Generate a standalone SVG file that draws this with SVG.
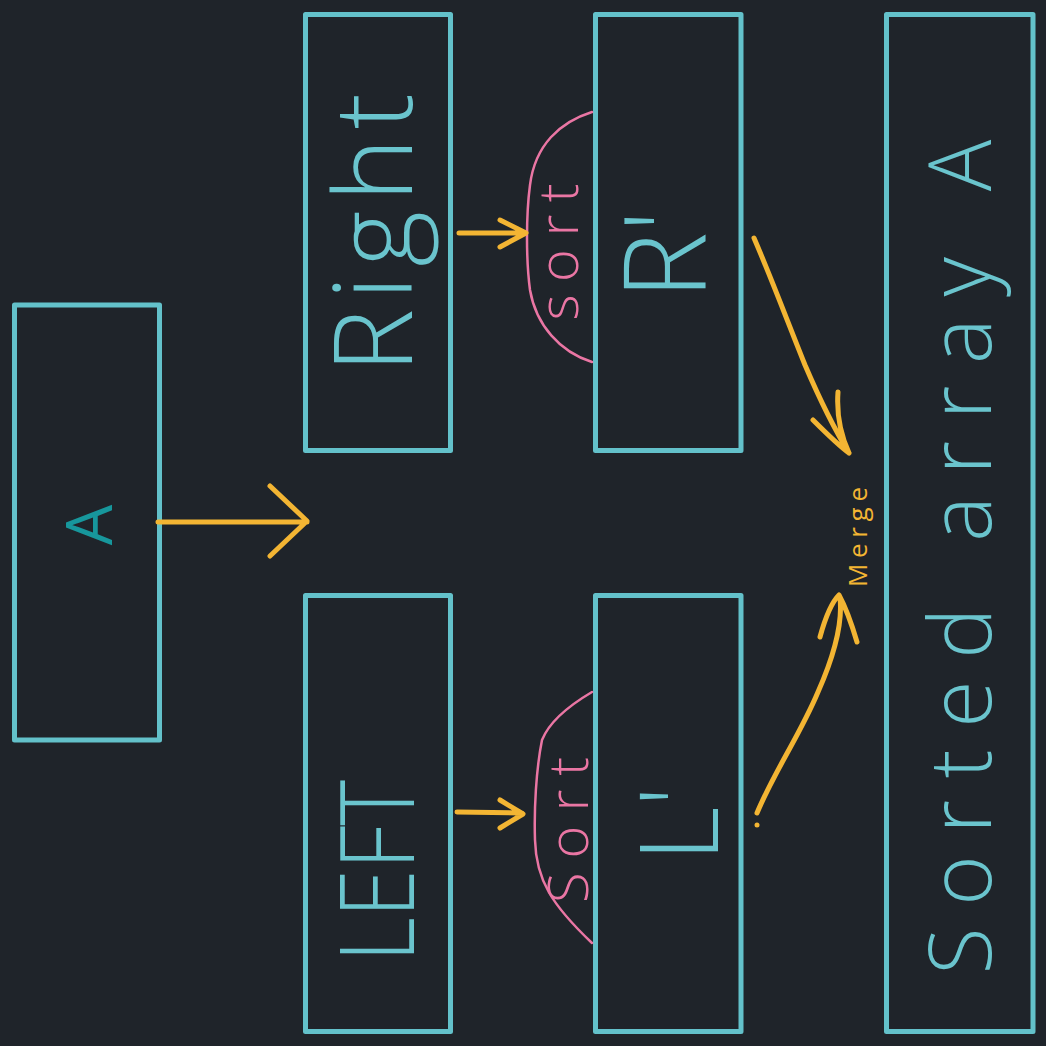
<svg xmlns="http://www.w3.org/2000/svg" width="1046" height="1046" viewBox="0 0 1046 1046">
<style>
.box{fill:none;stroke:#63c1ca;stroke-width:5;stroke-linejoin:round}
.lbl{font-family:"Open Sans","Liberation Sans","DejaVu Sans",sans-serif;font-weight:300;fill:#6ac4cd;text-anchor:middle}
.yel{fill:none;stroke:#f3b533;stroke-width:5;stroke-linecap:round;stroke-linejoin:round}
.pink{fill:none;stroke:#ea76a4;stroke-width:2.5;stroke-linecap:round}
.ptxt{font-family:"Open Sans","Liberation Sans","DejaVu Sans",sans-serif;font-weight:300;fill:#ea76a4;text-anchor:middle}
</style>
<rect width="1046" height="1046" fill="#1f242a"/>
<g id="node-A">
<rect class="box" x="14.5" y="305" width="145" height="435"/>
<text class="lbl" style="fill:#17979c;font-weight:400" font-size="64" transform="translate(112,525) rotate(-90)">A</text>
</g>
<g id="node-right">
<rect class="box" x="305.5" y="14.5" width="145" height="436"/>
<text class="lbl" font-size="108" textLength="280" lengthAdjust="spacing" transform="translate(412,233) rotate(-90)">Right</text>
</g>
<g id="node-left">
<rect class="box" x="305.5" y="595.5" width="145" height="436"/>
<text class="lbl" font-size="104" textLength="182" lengthAdjust="spacingAndGlyphs" transform="translate(414,871) rotate(-90)">LEFT</text>
</g>
<g id="node-rprime">
<rect class="box" x="595.5" y="14.5" width="145.5" height="436"/>
<text class="lbl" font-size="114" transform="translate(706,255) rotate(-90)">R'</text>
</g>
<g id="node-lprime">
<rect class="box" x="595.5" y="595.5" width="145.5" height="436"/>
<text class="lbl" font-size="108" transform="translate(718,824) rotate(-90)">L'</text>
</g>
<g id="node-sorted">
<rect class="box" x="886.5" y="14.5" width="146.5" height="1017"/>
<text class="lbl" font-size="86" textLength="835" lengthAdjust="spacing" transform="translate(991,557) rotate(-90)">Sorted array A</text>
</g>
<g id="sort-right">
<path class="pink" d="M592,112 C560,122 535,145 530,185 C526,215 526,260 530,290 C536,325 560,352 592,362"/>
<text class="ptxt" font-size="56" textLength="137" lengthAdjust="spacing" transform="translate(578,252) rotate(-90)">sort</text>
</g>
<g id="sort-left">
<path class="pink" d="M592,692 C570,705 550,720 542,740 C536,770 534,810 535,840 C536,880 552,905 592,943"/>
<text class="ptxt" font-size="56" textLength="146" lengthAdjust="spacing" transform="translate(588,830) rotate(-90)">Sort</text>
</g>
<g id="merge-label">
<text class="lbl" style="fill:#f3b533;font-weight:400" font-size="26" textLength="100" lengthAdjust="spacing" transform="translate(867,537) rotate(-90)">Merge</text>
</g>
<g id="connectors">
<path class="yel" d="M158,522 L307,522 M270,486 L307,521 L270,556"/>
<path class="yel" d="M459,233 L525,233 M500,220 L526,233 L500,247"/>
<path class="yel" d="M457,812 L522,813 M500,800 L523,814 L500,828"/>
<path class="yel" d="M754,238 C770,275 785,315 805,365 C820,400 838,435 849,453 M813,420 C825,432 838,445 849,453 M838,392 C836,420 843,440 849,453"/>
<path class="yel" d="M757,813 C775,770 800,735 818,692 C833,658 843,625 840,598 M820,637 C826,615 832,602 839,595 C846,608 852,625 857,642"/>
<circle cx="757" cy="825" r="2.5" fill="#f3b533"/>
</g>
</svg>
